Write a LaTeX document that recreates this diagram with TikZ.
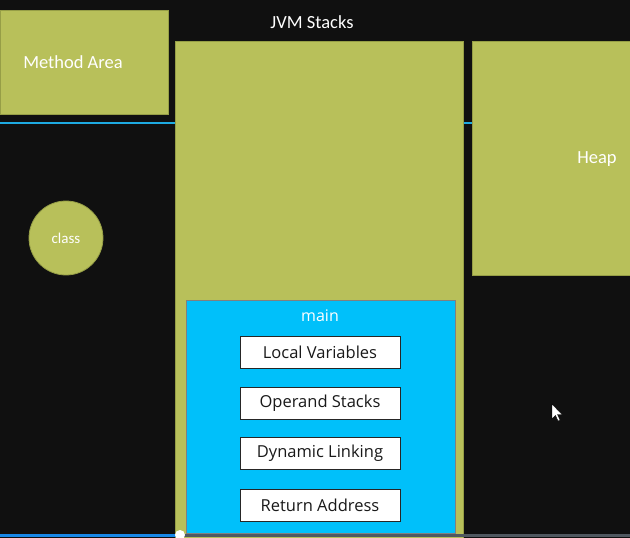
\documentclass[tikz,border=0pt]{standalone}
\usepackage{fontspec}
\setmainfont{Carlito}
\newfontfamily\boxfont{Open Sans}
\definecolor{bgc}{RGB}{16,16,16}
\definecolor{olive}{RGB}{184,192,90}
\definecolor{oliveedge}{RGB}{150,158,70}
\definecolor{mainblue}{RGB}{0,192,250}
\definecolor{lineblue}{RGB}{30,170,225}
\definecolor{bargray}{RGB}{80,88,96}
\definecolor{txtdark}{RGB}{25,25,25}
\tikzset{
  area/.style={fill=olive, draw=oliveedge, line width=0.8pt, inner sep=0pt, anchor=north west},
  wlabel/.style={text=white, font=\fontsize{18.5}{21}\selectfont, inner sep=0pt},
  itembox/.style={fill=white, draw=black!85, line width=1pt, minimum width=160pt, minimum height=32pt, inner sep=0pt, text=txtdark, font=\boxfont\fontsize{16.5}{19}\selectfont},
}
\begin{document}
\begin{tikzpicture}[x=1pt,y=-1pt]
\fill[bgc] (0,0) rectangle (630,538);
\useasboundingbox (0,0) rectangle (630,538);
% blue line behind boxes
\coordinate (l1) at (0,123);
\coordinate (l2) at (472,123);
\draw[lineblue, line width=2pt] (l1) -- (l2);
% Method area
\node[area, minimum width=168pt, minimum height=104pt] (method) at (0,10) {};
\node[wlabel] (methodt) at (73,62) {Method Area};
% JVM stacks
\node[wlabel] (jvmt) at (312,22) {JVM Stacks};
\node[area, minimum width=288pt, minimum height=500pt] (jvm) at (175,41) {};
% Heap
\node[area, minimum width=160pt, minimum height=234pt] (heap) at (472,41) {};
\node[wlabel] (heapt) at (597,159) {Heap};
% class circle
\node[circle, fill=olive, draw=oliveedge, line width=0.8pt, minimum size=74pt, inner sep=0pt, text=white, font=\fontsize{15}{17}\selectfont] (class) at (66,238) {class};
% main frame
\node[fill=mainblue, draw=black!50, line width=0.6pt, minimum width=269pt, minimum height=233pt, inner sep=0pt, anchor=north west] (main) at (186,300) {};
\node[text=white, font=\boxfont\fontsize{16}{19}\selectfont, inner sep=0pt] (maint) at (320,316) {main};
\node[itembox] (lv) at (320,352) {Local Variables};
\node[itembox] (os) at (320,403) {Operand Stacks};
\node[itembox] (dl) at (320,453) {Dynamic Linking};
\node[itembox] (ra) at (320,505) {Return Address};
% progress bar
\fill[bargray] (178,533.5) rectangle (630,536.5);
\fill[lineblue!80!blue] (0,533.5) rectangle (178,536.5);
\node[circle, fill=white, minimum size=10pt, inner sep=0pt] (knob) at (180,535) {};
% cursor
\fill[white, draw=black, line width=0.4pt] (552,404) -- (552,419) -- (555.5,415.5) -- (558,421) -- (560,420) -- (557.5,414.5) -- (562,414.5) -- cycle;
\end{tikzpicture}
\end{document}
